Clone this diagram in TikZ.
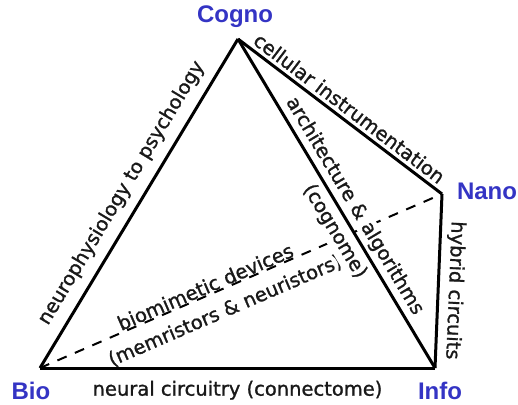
\documentclass[tikz,border=0pt]{standalone}
\usepackage{fontspec}
\newfontfamily\edgefont{DejaVu Sans}[RawFeature={embolden=1.2}]
\newfontfamily\cornerfont{Liberation Sans}
\definecolor{cornerblue}{RGB}{52,52,196}
\definecolor{edgetext}{RGB}{25,25,25}

\begin{document}
\begin{tikzpicture}[x=1pt,y=1pt,
    edge/.style={line width=3pt},
    hidden/.style={line width=2pt, dash pattern=on 10pt off 9pt},
    corner/.style={font=\cornerfont\bfseries\fontsize{24}{24}\selectfont, text=cornerblue},
    edgelbl/.style={font=\edgefont\fontsize{19.5}{19.5}\selectfont, text=edgetext, sloped}]
    \useasboundingbox (0,0) rectangle (518,404);

    % corners of the tetrahedron
    \coordinate (C) at (238,365);
    \coordinate (N) at (442,210);
    \coordinate (I) at (435,36);
    \coordinate (B) at (40,36);

    % hidden edge Bio - Nano
    \draw[hidden] (B) -- (N)
        node[edgelbl, pos=0.42, above=-3pt] (biolbl) {biomimetic devices}
        node[edgelbl, pos=0.44, below=8pt] (memlbl) {(memristors \& neuristors)};

    % labels of Cogno - Info hide the dashed edge behind them
    \path (C) -- (I)
        node[edgelbl, fill=white, inner sep=1pt, pos=0.53, above=3.5pt] (archlbl) {architecture \& algorithms}
        node[edgelbl, fill=white, pos=0.56, below=3pt] (coglbl) {(cognome)};

    % visible edges
    \draw[edge] (B) -- (C) node[edgelbl, pos=0.5, above=6pt] (neurolbl) {neurophysiology to psychology};
    \draw[edge] (C) -- (N) node[edgelbl, pos=0.51, above] (celllbl) {cellular instrumentation};
    \draw[edge] (C) -- (I);
    \draw[edge] (N) -- (I) node[edgelbl, allow upside down, pos=0.55, above=2pt] (hyblbl) {hybrid circuits};
    \draw[edge] (B) -- (I) node[edgelbl, pos=0.5, below=8pt] (connlbl) {neural circuitry (connectome)};

    % corner labels
    \node[corner] (cogno) at (235,387) {Cogno};
    \node[corner] (nano) at (487,213) {Nano};
    \node[corner] (info) at (440,13) {Info};
    \node[corner] (bio) at (31,13) {Bio};

\end{tikzpicture}
\end{document}
